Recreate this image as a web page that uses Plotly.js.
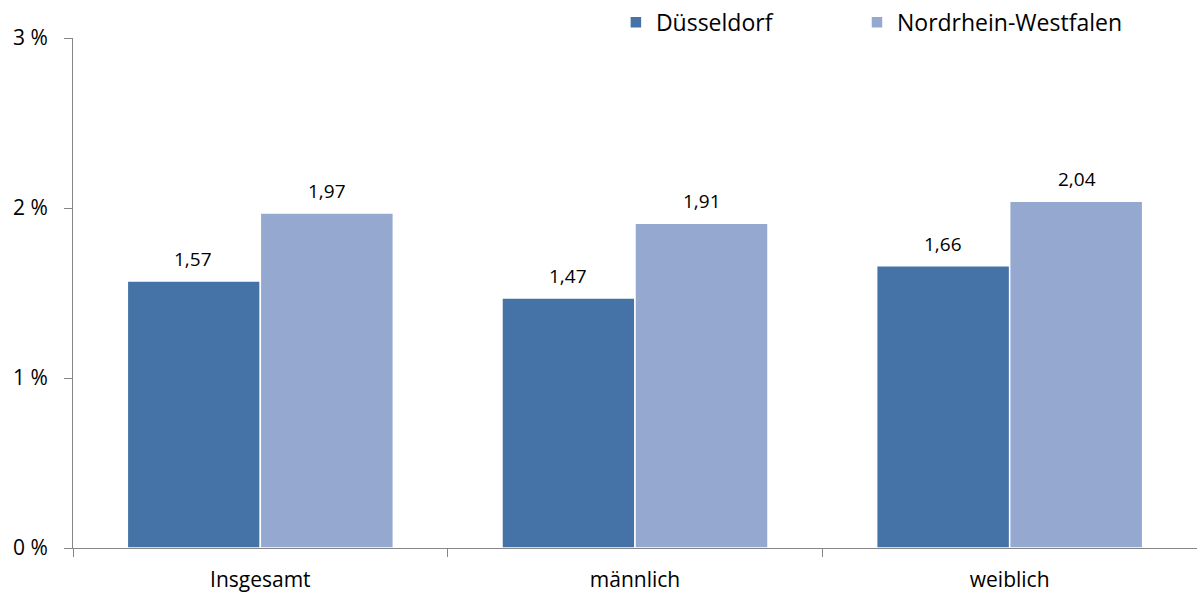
<!DOCTYPE html>
<html>
<head>
<meta charset="utf-8">
<script src="https://cdn.plot.ly/plotly-3.0.1.min.js"></script>
<style>html,body{margin:0;padding:0;background:#fff;}#chart{width:1197px;height:593px;}</style>
</head>
<body>
<div id="chart"></div>
<script>
const categories = ["Insgesamt", "männlich", "weiblich"];
const duesseldorf = [1.57, 1.47, 1.66];
const nrw = [1.97, 1.91, 2.04];
const seriesNames = ["Düsseldorf", "Nordrhein-Westfalen"];
const yTicks = [0, 1, 2, 3];

const fmt = v => v.toFixed(2).replace('.', ',');
const FONT = "Open Sans, Noto Sans, sans-serif";

const traces = [
  {type: 'bar', name: seriesNames[0], x: categories, y: duesseldorf, legend: 'legend',
   marker: {color: '#4572A7', line: {color: '#ffffff', width: 1.5}}, hoverinfo: 'none'},
  {type: 'bar', name: seriesNames[1], x: categories, y: nrw, legend: 'legend2',
   marker: {color: '#95A9D0', line: {color: '#ffffff', width: 1.5}}, hoverinfo: 'none'}
];

const annotations = [];
[duesseldorf, nrw].forEach((arr, si) => {
  arr.forEach((v, i) => {
    annotations.push({x: categories[i], y: v, xref: 'x', yref: 'y', text: fmt(v),
      showarrow: false, xshift: si === 0 ? -67 : 67, yshift: 22,
      font: {family: FONT, size: 19, color: '#000'}});
  });
});

const legendFont = {family: FONT, size: 23, color: '#000'};

const layout = {
  width: 1197, height: 593,
  margin: {l: 73, r: 0, t: 38, b: 45},
  paper_bgcolor: '#fff', plot_bgcolor: '#fff',
  barmode: 'group', bargap: 0.29, bargroupgap: 0,
  showlegend: true,
  legend: {orientation: 'h', x: 0.483, xanchor: 'left', y: 1.031, yanchor: 'middle', font: legendFont},
  legend2: {orientation: 'h', x: 0.6975, xanchor: 'left', y: 1.031, yanchor: 'middle', font: legendFont},
  xaxis: {type: 'category', range: [-0.5, 2.5], showline: true, linecolor: '#868686', linewidth: 1,
    ticks: 'outside', tickson: 'boundaries', ticklen: 8, tickcolor: '#868686',
    ticklabelstandoff: 13,
    showgrid: false, zeroline: false, fixedrange: true,
    tickfont: {family: FONT, size: 21, color: '#000'}},
  yaxis: {range: [0, 3], tickvals: yTicks, ticktext: yTicks.map(t => t + ' %'),
    showline: true, linecolor: '#868686', linewidth: 1, ticks: 'outside', ticklen: 8, tickcolor: '#868686',
    ticklabelstandoff: 12,
    showgrid: false, zeroline: false, fixedrange: true,
    tickfont: {family: FONT, size: 21, color: '#000'}},
  annotations: annotations
};

Plotly.newPlot('chart', traces, layout, {displayModeBar: false, staticPlot: true});
</script>
</body>
</html>
